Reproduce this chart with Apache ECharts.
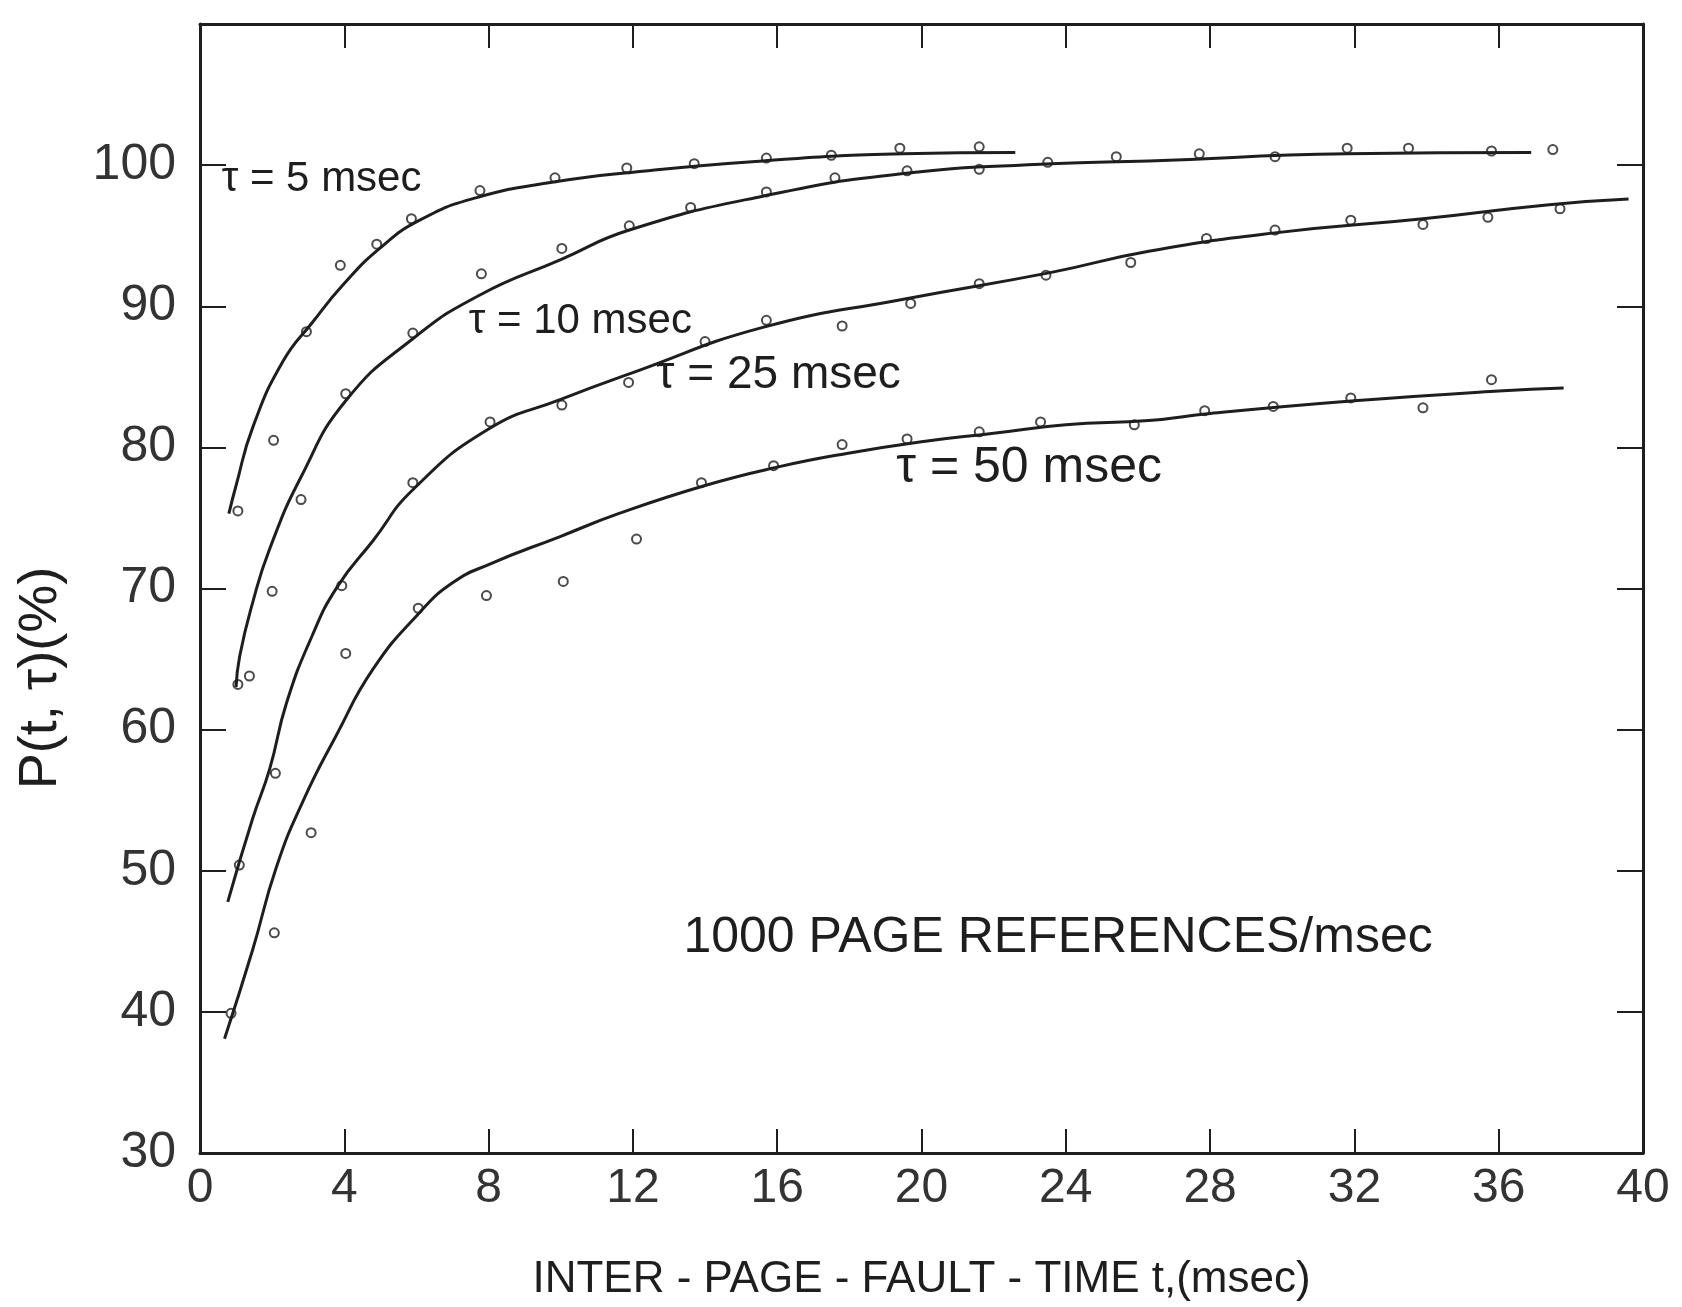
<!DOCTYPE html>
<html>
<head>
<meta charset="utf-8">
<title>P(t, τ) vs inter-page-fault time</title>
<script src="https://cdn.jsdelivr.net/npm/echarts@6/dist/echarts.min.js"></script>
<style>
  html, body { margin: 0; padding: 0; background: #fff; }
  #chart { width: 1682px; height: 1307px; }
</style>
</head>
<body>
<div id="chart"></div>
<script>
// fitted curves: [t (msec), P (%)]
var tau5Curve = [[0.8, 75.3], [1.0, 77.3], [1.46, 81.4], [2.3, 86.1], [3.13, 88.9], [3.96, 91.5], [4.98, 94.1],
  [6.09, 96.1], [7.67, 97.7], [9.8, 98.8], [12, 99.5], [15.6, 100.3], [19.5, 100.8], [22.6, 100.9]];
var tau10Curve = [[1.0, 63.0], [1.1, 65.2], [1.46, 69.0], [1.93, 72.8], [2.8, 77.9], [4.04, 83.3], [5.9, 87.7],
  [7.76, 90.8], [10, 93.3], [11.9, 95.4], [15.6, 97.8], [19.5, 99.4], [23.6, 100.1], [26.3, 100.3],
  [31.8, 100.8], [36.9, 100.9]];
var tau25Curve = [[0.77, 47.8], [1.46, 53.7], [1.93, 57.2], [2.4, 61.9], [3.1, 66.6], [3.8, 70.1], [4.8, 73.4],
  [5.9, 77.0], [8, 81.3], [10, 83.4], [12, 85.3], [15.6, 88.5], [19.5, 90.5], [23.6, 92.4], [26.3, 93.9],
  [29.8, 95.2], [33.9, 96.2], [37.4, 97.2], [39.6, 97.6]];
var tau50Curve = [[0.68, 38.1], [1.46, 44.4], [2.11, 50.2], [2.85, 54.9], [3.78, 59.6], [4.8, 64.3], [6.09, 68.3],
  [7.0, 70.4], [8, 71.7], [10, 73.7], [11.6, 75.3], [14, 77.3], [16, 78.6], [18, 79.6], [20, 80.4], [22, 81.0],
  [24, 81.6], [26.3, 81.9], [28, 82.4], [32, 83.3], [36, 84.0], [37.8, 84.2]];

// measured points (small circles)
var tau5Points = [[1.05, 75.5], [2.04, 80.5], [2.95, 88.2], [3.89, 92.9], [4.9, 94.4], [5.86, 96.2], [7.76, 98.2],
  [9.84, 99.1], [11.83, 99.8], [13.7, 100.1], [15.7, 100.5], [17.5, 100.7], [19.4, 101.2], [21.6, 101.3]];
var tau10Points = [[1.05, 63.2], [1.37, 63.8], [2.0, 69.8], [2.8, 76.3], [4.04, 83.8], [5.9, 88.1], [7.8, 92.3],
  [10.03, 94.1], [11.9, 95.7], [13.6, 97.0], [15.7, 98.1], [17.6, 99.1], [19.6, 99.6], [21.6, 99.7],
  [23.5, 100.2], [25.4, 100.6], [27.7, 100.8], [29.8, 100.6], [31.8, 101.2], [33.5, 101.2], [35.8, 101.0],
  [37.5, 101.1]];
var tau25Points = [[1.09, 50.4], [2.09, 56.9], [3.93, 70.2], [5.9, 77.5], [8.04, 81.8], [10.03, 83.0],
  [11.88, 84.6], [14.0, 87.5], [15.7, 89.0], [17.8, 88.6], [19.7, 90.2], [21.6, 91.6], [23.45, 92.2],
  [25.8, 93.1], [27.9, 94.8], [29.8, 95.4], [31.9, 96.1], [33.9, 95.8], [35.7, 96.3], [37.7, 96.9]];
var tau50Points = [[0.86, 39.9], [2.06, 45.6], [3.08, 52.7], [4.04, 65.4], [6.05, 68.6], [7.94, 69.5],
  [10.07, 70.5], [12.1, 73.5], [13.9, 77.5], [15.9, 78.7], [17.8, 80.2], [19.6, 80.6], [21.6, 81.1],
  [23.3, 81.8], [25.9, 81.6], [27.85, 82.6], [29.75, 82.9], [31.9, 83.5], [33.9, 82.8], [35.8, 84.8]];

// in-plot labels: [t, P, text]
var curveLabels = [
  [0.6, 99.0, 'τ = 5 msec'],
  [7.45, 88.9, 'τ = 10 msec'],
  [12.65, 85.1, 'τ = 25 msec'],
  [19.3, 78.5, 'τ = 50 msec'],
  [13.4, 45.2, '1000 PAGE REFERENCES/msec']
];
var labelSizes = [42, 42, 46, 50, 50];

var ink = '#1e1e1e';
var font = 'Liberation Sans';

var chart = echarts.init(document.getElementById('chart'));

function curve(data) {
  return {
    type: 'line', data: data, smooth: 0.5,
    showSymbol: false, silent: true,
    lineStyle: { color: ink, width: 3 }
  };
}
function dots(data) {
  return {
    type: 'scatter', data: data, symbol: 'emptyCircle', symbolSize: 9,
    itemStyle: { color: ink, borderColor: ink, borderWidth: 2 }
  };
}

// frame lines must stay on their own side, not jump to the other axis' zero
var frameLine = { onZero: false, lineStyle: { color: ink, width: 3 } };

var option = {
  backgroundColor: '#fff',
  animation: false,
  grid: { left: 200, right: 39, top: 24, bottom: 147 },
  xAxis: [{
    type: 'value', min: 0, max: 40, interval: 4, position: 'bottom',
    name: 'INTER - PAGE - FAULT - TIME t,(msec)', nameLocation: 'middle', nameGap: 105,
    nameTextStyle: { fontFamily: font, fontSize: 44, color: ink },
    axisLine: frameLine,
    axisTick: { inside: true, length: 24, lineStyle: { color: ink, width: 2 } },
    axisLabel: { fontFamily: font, fontSize: 48, color: '#333', margin: 12 },
    splitLine: { show: false }
  }, {
    type: 'value', min: 0, max: 40, interval: 4, position: 'top',
    axisLine: frameLine,
    axisTick: { inside: true, length: 24, lineStyle: { color: ink, width: 2 } },
    axisLabel: { show: false }, splitLine: { show: false }
  }],
  yAxis: [{
    type: 'value', min: 30, max: 110, interval: 10, position: 'left',
    axisLine: frameLine,
    axisTick: { inside: true, length: 26, lineStyle: { color: ink, width: 2 } },
    axisLabel: {
      fontFamily: font, fontSize: 50, color: '#333', margin: 24,
      formatter: function (v) { return v > 100 ? '' : v; }
    },
    splitLine: { show: false }
  }, {
    type: 'value', min: 30, max: 110, interval: 10, position: 'right',
    axisLine: frameLine,
    axisTick: { inside: true, length: 26, lineStyle: { color: ink, width: 2 } },
    axisLabel: { show: false }, splitLine: { show: false }
  }],
  series: [
    curve(tau5Curve), curve(tau10Curve), curve(tau25Curve), curve(tau50Curve),
    dots(tau5Points), dots(tau10Points), dots(tau25Points), dots(tau50Points)
  ]
};
chart.setOption(option);

// place the text labels at data coordinates through the axes
var texts = curveLabels.map(function (l, i) {
  var p = chart.convertToPixel({ gridIndex: 0 }, [l[0], l[1]]);
  return {
    type: 'text', x: p[0], y: p[1],
    style: {
      text: l[2], fill: ink, font: labelSizes[i] + 'px "' + font + '"',
      textAlign: 'left', textVerticalAlign: 'middle'
    }
  };
});
texts.push({
  type: 'text', x: 41, y: 678, rotation: Math.PI / 2,
  style: {
    text: 'P(t, τ)(%)', fill: ink, font: '54px "' + font + '"',
    textAlign: 'center', textVerticalAlign: 'middle'
  }
});
chart.setOption({ graphic: texts });
</script>
</body>
</html>
